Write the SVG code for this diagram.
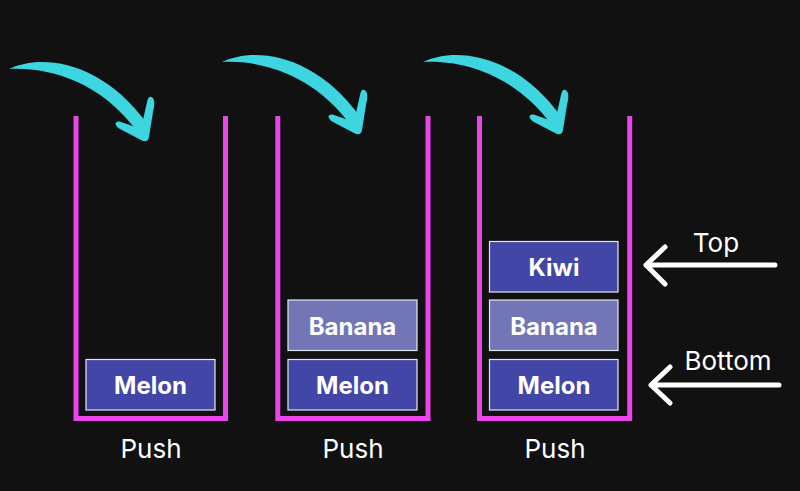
<svg xmlns="http://www.w3.org/2000/svg" width="800" height="491" viewBox="0 0 800 491">
<style>
.stack{fill:none;stroke:#EA45EA;stroke-width:5;stroke-linecap:butt;stroke-linejoin:miter}
.box{stroke:#E6E6F0;stroke-width:1.2}
.dark{fill:#4246A6}
.light{fill:#7276B6}
.bt{font-family:Inter,"Liberation Sans",sans-serif;font-weight:700;font-size:24px;fill:#FFFFFF;text-anchor:middle}
.lbl{font-family:Inter,"Liberation Sans",sans-serif;font-size:26px;fill:#FFFFFF;text-anchor:middle}
.wa{fill:none;stroke:#FFFFFF;stroke-width:5;stroke-linecap:round;stroke-linejoin:round}
.cy{fill:#3CD5E0}
</style>
<defs>
<g id="curl">
<path class="cy" d="M9,69 C40,54 101,59 148,125 L139,134 C100,79 45,67 9,69 Z"/>
<path class="cy" d="M151,97 C155,98 155,104 153,112 L149,137 C148,142 145,142 141,140 L120,129 C113,125 115,120 121,122 L141,129 L147,102 C148,98 149,96 151,97 Z"/>
</g>
</defs>
<rect width="800" height="491" fill="#111111"/>
<g id="connectors">
<use href="#curl"/>
<use href="#curl" transform="translate(213,-7)"/>
<use href="#curl" transform="translate(414,-7)"/>
<path class="wa" d="M775,265 L646,265 M665,247 L646,265 L665,284"/>
<path class="wa" d="M779,385 L651,385 M670,367 L651,385 L670,403"/>
</g>
<g id="stack1">
<path class="stack" d="M76,116 V418.5 H225.5 V116"/>
<g id="s1-melon"><rect class="box dark" x="86" y="359.5" width="129" height="50.5"/><text class="bt" x="150.5" y="394">Melon</text></g>
<text class="lbl" x="151" y="458">Push</text>
</g>
<g id="stack2">
<path class="stack" d="M277.8,116 V418.5 H428 V116"/>
<g id="s2-banana"><rect class="box light" x="288" y="300" width="129" height="50.5"/><text class="bt" x="352.5" y="334.5">Banana</text></g>
<g id="s2-melon"><rect class="box dark" x="288" y="359.5" width="129" height="50.5"/><text class="bt" x="352.5" y="394">Melon</text></g>
<text class="lbl" x="353" y="458">Push</text>
</g>
<g id="stack3">
<path class="stack" d="M479.5,116 V418.5 H629.7 V116"/>
<g id="s3-kiwi"><rect class="box dark" x="489.5" y="241.5" width="128.5" height="50.5"/><text class="bt" x="554" y="276">Kiwi</text></g>
<g id="s3-banana"><rect class="box light" x="489.5" y="300" width="128.5" height="50.5"/><text class="bt" x="554" y="334.5">Banana</text></g>
<g id="s3-melon"><rect class="box dark" x="489.5" y="359.5" width="128.5" height="50.5"/><text class="bt" x="554" y="394">Melon</text></g>
<text class="lbl" x="555" y="458">Push</text>
</g>
<g id="top-label"><text class="lbl" x="716" y="251.5">Top</text></g>
<g id="bottom-label"><text class="lbl" x="728" y="370">Bottom</text></g>
</svg>
